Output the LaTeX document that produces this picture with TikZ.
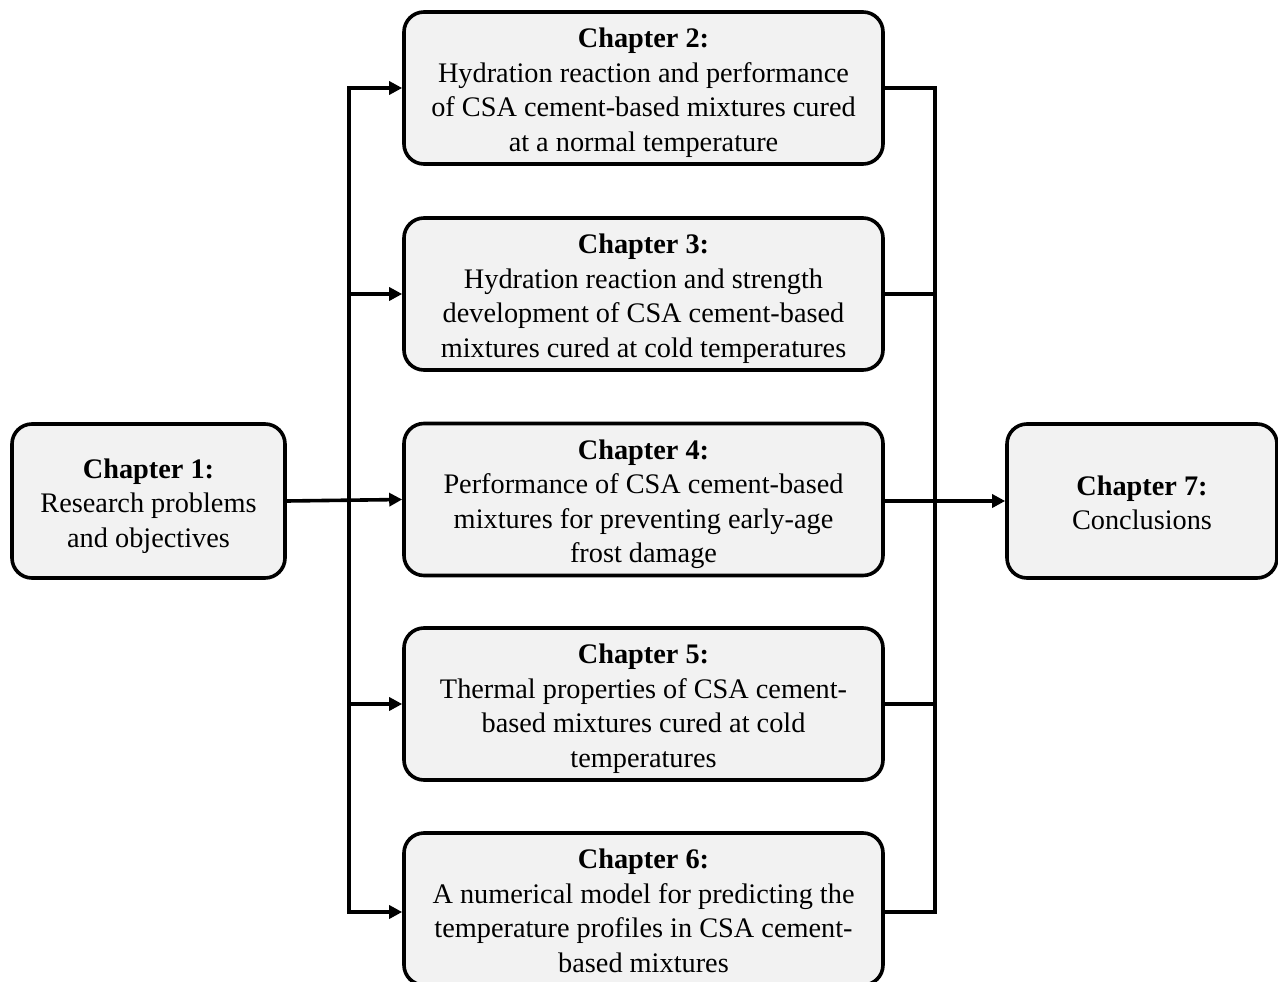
\documentclass[tikz,border=0pt]{standalone}
\usepackage{fontspec}
\setmainfont{Liberation Serif}
\usetikzlibrary{arrows.meta,calc}
\newcommand{\boxtext}[1]{\raisebox{-11pt}[0pt][0pt]{\begin{tabular}{@{}c@{}}#1\end{tabular}}}
\begin{document}
\begin{tikzpicture}[x=1pt,y=-1pt,
  chbox/.style={draw=black, line width=3.6pt, rounded corners=20pt, fill=black!5,
    align=center, inner sep=0pt, font=\fontsize{28.3}{34.5}\selectfont},
  wire/.style={line width=3.6pt, line cap=rect},
  arr/.style={line width=3.6pt, -{Triangle[length=13pt,width=13pt]}}
]
\useasboundingbox[fill=white] (0,0) rectangle (1278,982);
\node[chbox, minimum width=273pt, minimum height=154pt] (ch1) at (148.5,501)
  {\boxtext{\textbf{Chapter 1:}\\Research problems\\and objectives}};
\node[chbox, minimum width=479pt, minimum height=152pt] (ch2) at (643.5,88)
  {\boxtext{\textbf{Chapter 2:}\\Hydration reaction and performance\\of CSA cement-based mixtures cured\\at a normal temperature}};
\node[chbox, minimum width=479pt, minimum height=152pt] (ch3) at (643.5,294)
  {\boxtext{\textbf{Chapter 3:}\\Hydration reaction and strength\\development of CSA cement-based\\mixtures cured at cold temperatures}};
\node[chbox, minimum width=479pt, minimum height=152pt] (ch4) at (643.5,499.5)
  {\boxtext{\textbf{Chapter 4:}\\Performance of CSA cement-based\\mixtures for preventing early-age\\frost damage}};
\node[chbox, minimum width=479pt, minimum height=152pt] (ch5) at (643.5,704)
  {\boxtext{\textbf{Chapter 5:}\\Thermal properties of CSA cement-\\based mixtures cured at cold\\temperatures}};
\node[chbox, minimum width=479pt, minimum height=152pt] (ch6) at (643.5,909)
  {\boxtext{\textbf{Chapter 6:}\\A numerical model for predicting the\\temperature profiles in CSA cement-\\based mixtures}};
\node[chbox, minimum width=270pt, minimum height=154pt] (ch7) at (1142,501)
  {\boxtext{\textbf{Chapter 7:}\\Conclusions}};
% left bus
\coordinate (L2) at (349,88);
\coordinate (L3) at (349,294);
\coordinate (L5) at (349,704);
\coordinate (L6) at (349,912);
\draw[wire, line cap=butt] (L2) -- (L6);
\draw[arr] ([xshift=-1.8pt]L2) -- (ch2.west);
\draw[arr] (L3) -- (ch3.west);
\draw[arr] (L5) -- (ch5.west);
\draw[arr] ([xshift=-1.8pt]L6) -- (ch6.west |- L6);
\draw[arr] (ch1.east) -- (ch4.west);
% right bus
\coordinate (R2) at (935,88);
\coordinate (R3) at (935,294);
\coordinate (R5) at (935,704);
\coordinate (R6) at (935,912);
\draw[wire, line cap=butt] ([yshift=-1.8pt]R2) -- ([yshift=1.8pt]R6);
\draw[wire, line cap=butt] (ch2.east) -- ([xshift=1.8pt]R2);
\draw[wire, line cap=butt] (ch3.east) -- (R3);
\draw[wire, line cap=butt] (ch5.east) -- (R5);
\draw[wire, line cap=butt] (ch6.east |- R6) -- ([xshift=1.8pt]R6);
\draw[arr] (ch4.east |- ch7.west) -- (ch7.west);
\end{tikzpicture}
\end{document}
